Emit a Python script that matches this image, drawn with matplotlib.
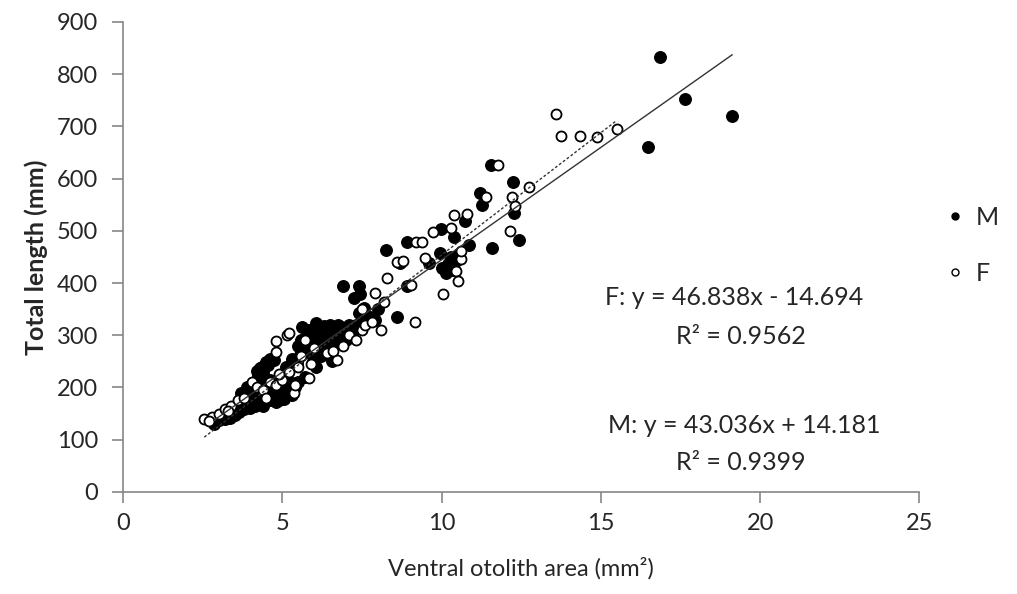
import matplotlib
matplotlib.use("Agg")
import matplotlib.pyplot as plt
from matplotlib.lines import Line2D
import numpy as np

plt.rcParams['font.family'] = ['Lato', 'DejaVu Sans']

# male otoliths (area mm2, total length mm)
m_area = [2.85, 3.0, 3.1, 3.2, 3.3, 3.35, 3.45, 3.5, 3.6, 3.65, 3.7, 3.75, 3.8, 3.85, 3.9,
          3.95, 4.0, 4.05, 4.1, 4.15, 4.2, 4.25, 4.3, 4.35, 4.4, 4.45, 4.5, 4.55, 4.6, 4.65,
          4.7, 4.75, 4.8, 4.85, 4.9, 5.0, 5.05, 5.1, 5.2, 5.3, 5.4, 3.9, 4.1, 4.3, 3.7,
          4.6, 4.0, 4.4, 4.8,
          3.55, 3.75, 3.95, 4.05, 4.15, 4.25, 4.45, 4.55, 4.65, 4.7, 4.95, 5.15, 5.25, 5.35,
          5.5, 3.4, 3.6, 3.8, 4.3, 4.5, 4.9,
          4.2, 4.35, 4.5, 4.6, 4.75, 4.4, 4.3, 4.55, 4.25,
          5.1, 5.45, 5.7, 5.75, 6.07, 6.38, 6.57, 5.63, 6.07, 6.3, 6.55, 6.7, 6.9, 7.04, 7.42,
          7.58, 7.74, 5.9, 6.1, 6.25, 6.4, 6.6, 6.8, 7.0, 5.8, 6.2, 6.0, 7.2, 6.5, 6.3,
          6.75, 5.3, 5.95, 6.15, 5.5, 7.3, 7.9,
          5.6, 5.85, 6.1, 6.45, 6.65, 6.2, 5.95, 6.35, 6.85, 7.1, 5.55,
          6.92, 7.42, 7.26, 7.45, 7.58, 7.42, 8.0, 8.6, 8.27, 8.68, 8.9, 8.9, 9.94, 10.3,
          10.47, 10.0, 10.15, 10.4, 9.62, 10.2, 10.35, 10.55, 9.97, 10.4, 10.85, 11.57, 10.75,
          11.2, 11.26, 11.54, 12.23, 12.26, 12.42, 16.48, 16.86, 17.64, 19.12]
m_length = [130, 138, 145, 140, 150, 142, 155, 148, 160, 152, 165, 170, 158, 175, 185,
            165, 178, 190, 172, 182, 195, 168, 188, 200, 178, 192, 185, 205, 175, 195,
            188, 180, 200, 192, 185, 195, 178, 205, 190, 185, 200, 200, 205, 210, 190,
            215, 160, 165, 172,
            158, 162, 175, 200, 165, 185, 175, 190, 182, 200, 200, 195, 210, 195,
            210, 150, 170, 168, 175, 200, 175,
            232, 240, 248, 255, 252, 230, 238, 242, 222,
            240, 247, 220, 268, 240, 272, 250, 316, 323, 318, 300, 310, 295, 310, 313,
            330, 335, 290, 300, 280, 295, 285, 300, 290, 300, 260, 285, 305, 320, 300,
            320, 255, 250, 270, 280, 320, 330,
            290, 310, 315, 310, 295, 290, 275, 285, 315, 320, 262,
            395, 395, 372, 378, 352, 343, 350, 335, 463, 438, 479, 395, 458, 450,
            444, 429, 419, 439, 439, 437, 425, 455, 504, 488, 473, 467, 519,
            572, 550, 626, 594, 534, 483, 661, 833, 753, 720]

# female otoliths
f_area = [2.55, 2.8, 2.7, 3.0, 3.2, 3.4, 3.6, 3.8, 4.05, 4.2, 4.4, 4.6, 4.8, 5.0, 5.37,
          5.4, 5.85, 5.2, 4.8, 4.8, 5.16, 5.2, 5.5, 5.6, 6.0, 6.73, 6.4, 6.9, 7.1, 7.3,
          7.5, 8.1, 7.6, 7.8, 6.6, 5.9, 4.5, 3.3, 4.9, 5.7,
          8.2, 7.9, 7.5, 8.3, 8.6, 9.05, 9.15, 9.2, 9.47, 9.72, 10.03, 10.28, 10.4, 10.6,
          10.45, 10.53, 10.8, 10.62, 11.4, 11.77, 12.2, 12.14, 12.74, 12.3, 8.8, 9.4,
          13.6, 13.74, 14.34, 14.87, 15.5]
f_length = [140, 144, 135, 150, 158, 165, 175, 180, 211, 200, 195, 210, 205, 215, 190,
            205, 218, 230, 268, 288, 301, 304, 240, 260, 275, 253, 265, 280, 300, 290,
            310, 310, 320, 325, 270, 245, 180, 155, 225, 290,
            364, 380, 350, 410, 441, 397, 326, 479, 448, 498, 379, 506, 530, 446,
            423, 404, 532, 462, 565, 626, 565, 500, 584, 548, 442, 478,
            724, 682, 682, 680, 695]

# linear fits
m_slope, m_icpt, m_r2 = 43.036, 14.181, 0.9399
f_slope, f_icpt, f_r2 = 46.838, -14.694, 0.9562

fig = plt.figure(figsize=(10.17, 5.94), dpi=100)
ax = fig.add_axes([0.121, 0.172, 0.783, 0.791])

ax.scatter(m_area, m_length, s=72, c='black', edgecolors='black', linewidths=0.8, zorder=3)
ax.scatter(f_area, f_length, s=52, c='white', edgecolors='black', linewidths=1.3, zorder=4)

xm = np.array([min(m_area), max(m_area)])
ax.plot(xm, m_slope * xm + m_icpt, color='#333333', lw=1.0, zorder=5)
xf = np.array([min(f_area), max(f_area)])
ax.plot(xf, f_slope * xf + f_icpt, color='#333333', lw=1.0, ls=(0, (2, 1.5)), zorder=5)

ax.set_xlim(0, 25)
ax.set_ylim(0, 900)
ax.set_xticks(range(0, 26, 5))
ax.set_yticks(range(0, 901, 100))
for side in ['top', 'right']:
    ax.spines[side].set_visible(False)
for side in ['left', 'bottom']:
    ax.spines[side].set_color('#868686')
    ax.spines[side].set_linewidth(1.2)
ax.tick_params(direction='out', length=8, width=1.2, color='#868686',
               labelsize=17, labelcolor='#262626', pad=7)
ax.tick_params(axis='y', pad=10)

ax.set_xlabel('Ventral otolith area (mm²)', fontsize=17, color='#262626', labelpad=17)
ax.set_ylabel('Total length (mm)', fontsize=18, fontweight='bold', color='#262626', labelpad=6)

eq_style = dict(fontsize=18, color='#262626', ha='center', va='center', transform=ax.transData)
ax.text(19.2, 372, f'F: y = {f_slope}x - {abs(f_icpt)}', **eq_style)
ax.text(19.4, 297, f'R² = {f_r2}', **eq_style)
ax.text(19.5, 128, f'M: y = {m_slope}x + {m_icpt}', **eq_style)
ax.text(19.4, 56, f'R² = {m_r2}', **eq_style)

handles = [
    Line2D([], [], ls='none', marker='o', ms=5, mfc='black', mec='black'),
    Line2D([], [], ls='none', marker='o', ms=5, mfc='white', mec='black', mew=1.0),
]
fig.legend(handles, ['M', 'F'], loc='center left', bbox_to_anchor=(0.905, 0.587),
           frameon=False, fontsize=18, labelspacing=1.3, handletextpad=0.3,
           handlelength=1.0, labelcolor='#262626')

fig.savefig('out.png', dpi=100)
